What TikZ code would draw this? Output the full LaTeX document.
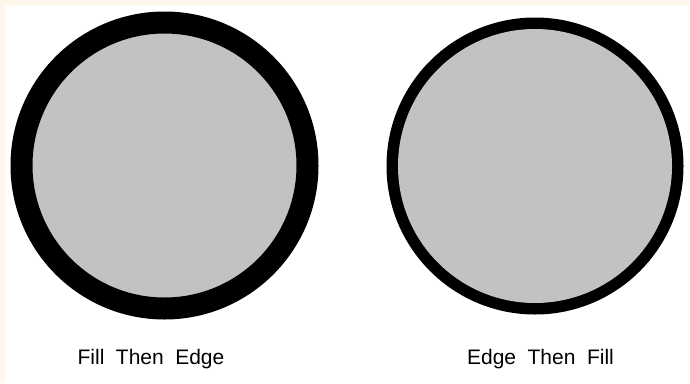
\documentclass[tikz,border=0pt]{standalone}
\usepackage{fontspec}
\setmainfont{Liberation Sans}
\definecolor{cream}{HTML}{FDF7EC}
\definecolor{halftone}{HTML}{C2C2C2}
\tikzset{
  lbl/.style={anchor=base, inner sep=0pt, font=\fontsize{21pt}{24pt}\selectfont},
  rim/.style={draw=black, line width=#1},
}
\newcommand{\wsp}{\hspace{11.5pt}}
\begin{document}
\begin{tikzpicture}[x=1pt,y=-1pt]
  \useasboundingbox (0,0) rectangle (690,383);
  \fill[cream] (0,0) rectangle (690,383);
  \fill[white] (5,6) rectangle (690,383);
  % Fill then edge
  \fill[halftone] (164.5,165.5) circle[radius=143];
  \draw[rim=22pt] (164.5,165.5) circle[radius=143];
  % Edge then fill
  \draw[rim=23pt] (535,166) circle[radius=137];
  \fill[halftone] (535,166) circle[radius=137];
  \node[lbl] (l1) at (151,364) {Fill\wsp Then\wsp Edge};
  \node[lbl] (l2) at (540.5,364) {Edge\wsp Then\wsp Fill};
\end{tikzpicture}
\end{document}
